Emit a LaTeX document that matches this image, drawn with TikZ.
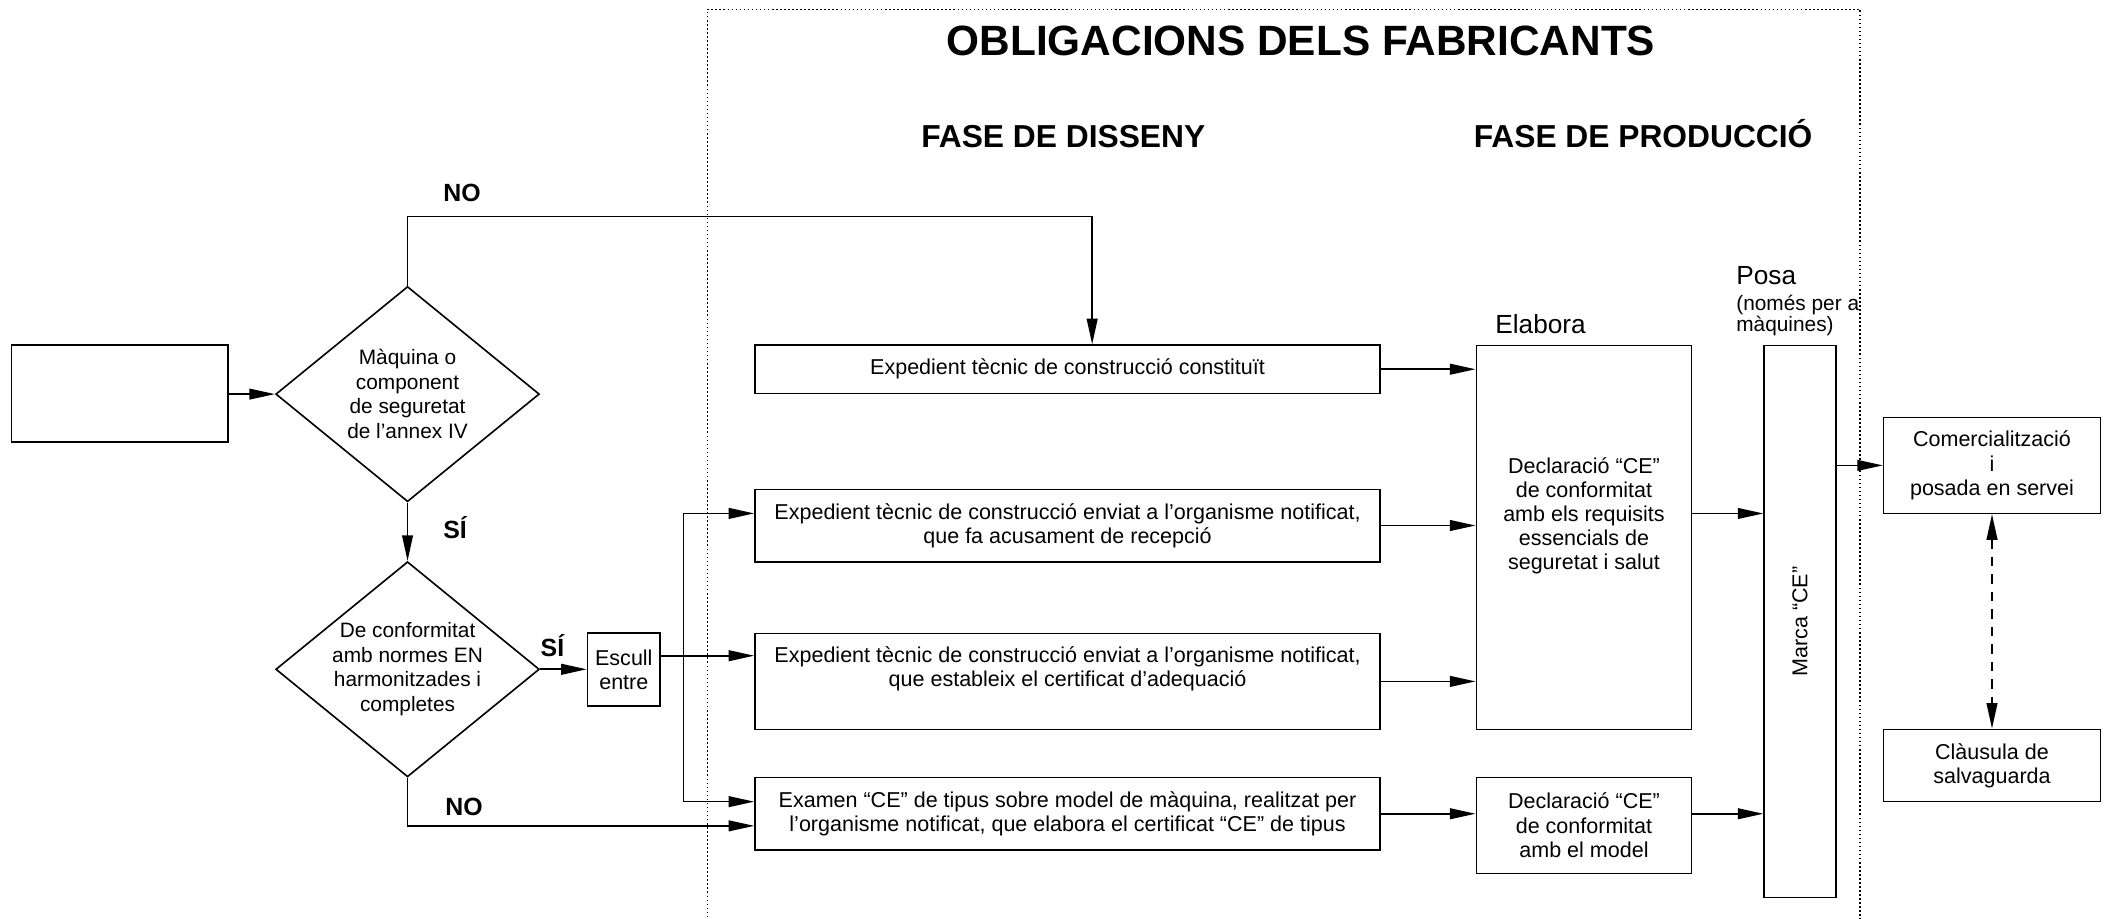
\documentclass[tikz,border=0pt]{standalone}
\usepackage{fontspec}
\setmainfont{Liberation Sans}
\usetikzlibrary{arrows.meta,shapes.geometric,calc}
\newcommand\myfs[2]{\fontsize{#1}{#2}\selectfont}
\begin{document}
\begin{tikzpicture}[x=1pt,y=-1pt,
  boxst/.style={draw, line width=1.2pt, inner sep=0pt, align=center, font=\myfs{16}{18}},
  txt/.style={inner sep=0pt, align=center, font=\myfs{16}{18}},
  dtxt/.style={inner sep=0pt, align=center, font=\myfs{15.5}{18.2}},
  arr/.style={line width=1.2pt, -{Triangle[length=19pt,width=8pt]}},
  darr/.style={line width=1.2pt, dash pattern=on 7pt off 6pt, {Triangle[length=19pt,width=8pt]}-{Triangle[length=19pt,width=8pt]}},
  lbl/.style={font=\bfseries\myfs{18.5}{20}, anchor=base west, inner sep=0pt},
  head/.style={anchor=base, inner sep=0pt},
  plain/.style={anchor=base west, inner sep=0pt},
  dmd/.style={diamond, draw, line width=1.2pt, inner sep=0pt, shape aspect=1.225, minimum width=196pt, minimum height=160pt},
  frame/.style={line width=1.1pt, dash pattern=on 1.2pt off 1.8pt}
]
\useasboundingbox (0,0) rectangle (1568,683);
\draw[frame] (526,700) -- (526,6.9) -- (1383,6.9) -- (1383,700);

% headings
\node[head, font=\bfseries\myfs{31.5}{34}] (title) at (967.2,40.9) {OBLIGACIONS DELS FABRICANTS};
\node[head, font=\bfseries\myfs{23.6}{26}] (fd) at (790.5,110) {FASE DE DISSENY};
\node[head, font=\bfseries\myfs{23.6}{26}] (fp) at (1221.6,110) {FASE DE PRODUCCIÓ};

% left part
\node[boxst, minimum width=161.2pt, minimum height=71.9pt] (lb) at (89.1,292.5) {};
\node[dmd] (d1) at (303,293) {};
\node[dtxt] (d1t) at (d1.center) {Màquina o\\component\\de seguretat\\de l’annex IV};
\node[dmd] (d2) at (303,497.6) {};
\node[dtxt] (d2t) at (d2.center) {De conformitat\\amb normes EN\\harmonitzades i\\completes};
\node[boxst, minimum width=54pt, minimum height=54pt] (esc) at (463.8,497.8) {Escull\\entre};

% design boxes
\node[boxst, minimum width=464.7pt, minimum height=35.9pt] (b1) at (793.7,274.5) {Expedient tècnic de construcció constituït};
\node[boxst, minimum width=464.7pt, minimum height=53.8pt] (b2) at (793.7,390.7) {Expedient tècnic de construcció enviat a l’organisme notificat,\\que fa acusament de recepció};
\node[boxst, minimum width=464.7pt, minimum height=71.4pt] (b3) at (793.7,506.6) {};
\node[txt] (b3t) at (793.7,497.5) {Expedient tècnic de construcció enviat a l’organisme notificat,\\que estableix el certificat d’adequació};
\node[boxst, minimum width=464.7pt, minimum height=54pt] (b4) at (793.7,605) {Examen “CE” de tipus sobre model de màquina, realitzat per\\l’organisme notificat, que elabora el certificat “CE” de tipus};

% production
\node[boxst, minimum width=160.1pt, minimum height=285.3pt] (elab) at (1177.65,399.65) {};
\node[txt] (elabt) at (1177.65,383.5) {Declaració “CE”\\de conformitat\\amb els requisits\\essencials de\\seguretat i salut};
\node[plain, font=\myfs{19.5}{22}] (elabl) at (1111.6,247.8) {Elabora};
\node[boxst, minimum width=160.1pt, minimum height=71.3pt] (decl2) at (1177.65,613.65) {Declaració “CE”\\de conformitat\\amb el model};
\node[boxst, minimum width=53.4pt, minimum height=410.2pt] (marca) at (1338.3,462.1) {};
\node[txt, rotate=90] (marcat) at (marca.center) {Marca “CE”};
\node[plain, font=\myfs{19.5}{22}] (posa) at (1290.7,211.4) {Posa};
\node[plain, font=\myfs{15.5}{17}] (nom1) at (1290.7,230.5) {(només per a};
\node[plain, font=\myfs{15.5}{17}] (nom2) at (1290.7,246.6) {màquines)};

% right
\node[boxst, minimum width=161.1pt, minimum height=71.4pt] (com) at (1481,346) {Comercialització\\i\\posada en servei};
\node[boxst, minimum width=161.1pt, minimum height=53.7pt] (clau) at (1481,569.15) {Clàusula de\\salvaguarda};

% labels
\node[lbl] (no1) at (329.5,150) {NO};
\node[lbl] (si1) at (329.4,400) {SÍ};
\node[lbl] (si2) at (401.8,488.2) {SÍ};
\node[lbl] (no2) at (330.9,606) {NO};

% connectors
\coordinate (notop) at (812,161);
\coordinate (vx) at (508.2,487.5);
\draw[arr] (lb.east |- d1.west) -- (d1.west);
\draw[arr] (d1.north) |- (notop) -- (notop |- b1.north);
\draw[arr] (d1.south) -- (d2.north);
\draw[arr] (d2.east) -- (esc.west |- d2.east);
\draw[arr] ([yshift=10.3pt]esc.east) -- ([yshift=10.3pt]esc.east -| b3.west);
\draw[arr] ([yshift=9pt]b2.west -| vx) -- ([yshift=9pt]b2.west);
\draw[arr] ([yshift=9pt]b2.west -| vx) -- ([yshift=9pt]b4.west -| vx) -- ([yshift=9pt]b4.west);
\draw[arr] (d2.south) |- ([yshift=-9pt]b4.west);
\draw[arr] (b1.east) -- (b1.east -| elab.west);
\draw[arr] (b2.east) -- (b2.east -| elab.west);
\draw[arr] (b3.east) -- (b3.east -| elab.west);
\draw[arr] (b4.east) -- (b4.east -| decl2.west);
\draw[arr] ([yshift=17.9pt]elab.east) -- ([yshift=17.9pt]elab.east -| marca.west);
\draw[arr] (decl2.east |- b4.east) -- (marca.west |- b4.east);
\draw[arr] (marca.east |- com.west) -- (com.west);
\draw[darr] (com.south) -- (clau.north);
\end{tikzpicture}
\end{document}
